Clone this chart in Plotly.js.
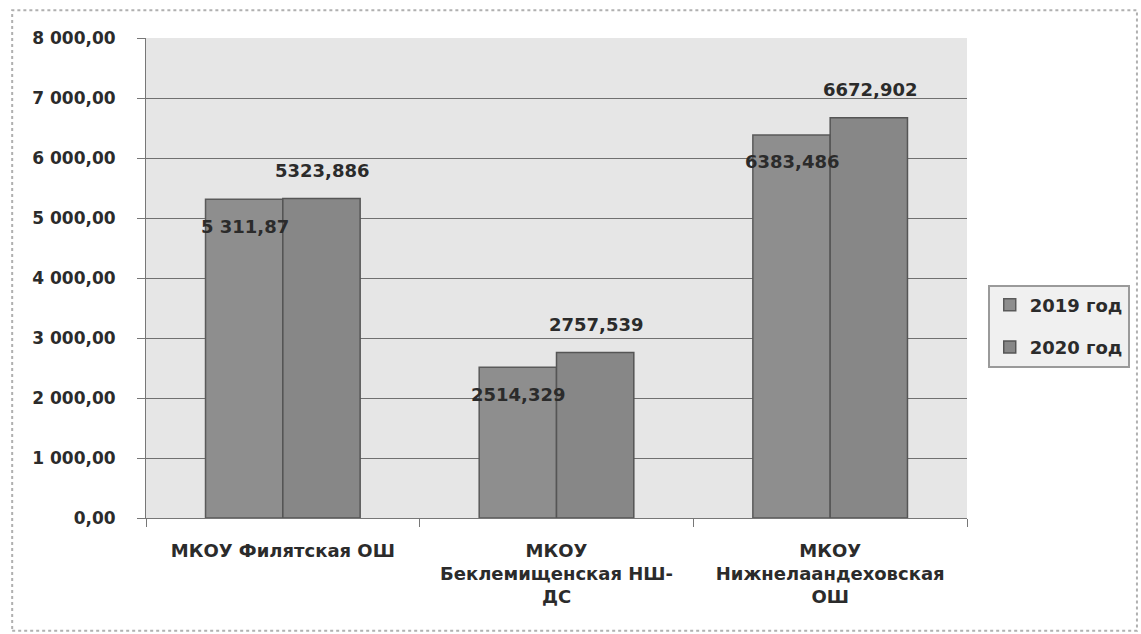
<!DOCTYPE html>
<html><head><meta charset="utf-8">
<script src="https://cdn.plot.ly/plotly-3.0.1.min.js"></script>
<style>html,body{margin:0;padding:0;background:#fff}#chart{width:1141px;height:634px}</style>
</head><body><div id="chart"></div>
<script>
const categories = ["МКОУ Филятская ОШ", "МКОУ<br>Беклемищенская НШ-<br>ДС", "МКОУ<br>Нижнелаандеховская<br>ОШ"];
const seriesNames = ["2019 год", "2020 год"];
const values2019 = [5311.87, 2514.329, 6383.486];
const values2020 = [5323.886, 2757.539, 6672.902];
const labels2019 = ["5 311,87", "2514,329", "6383,486"];
const labels2020 = ["5323,886", "2757,539", "6672,902"];
const yTickVals = [0, 1000, 2000, 3000, 4000, 5000, 6000, 7000, 8000];
const yTickText = ["0,00", "1 000,00", "2 000,00", "3 000,00", "4 000,00", "5 000,00", "6 000,00", "7 000,00", "8 000,00"];

const FONT = "DejaVu Sans, Verdana, sans-serif";
const textColor = "#2b2b2b";
const bold = s => "<b>" + s + "</b>";

const traces = [
  {type: "bar", name: bold(seriesNames[0]), x: categories.map(bold), y: values2019, legendgroup: "a",
   marker: {color: "#8e8e8e", line: {color: "#5a5a5a", width: 1.5}}},
  {type: "bar", name: bold(seriesNames[1]), x: categories.map(bold), y: values2020, legendgroup: "b",
   marker: {color: "#878787", line: {color: "#555555", width: 1.5}}}
];

const annotations = [];
categories.forEach((c, i) => {
  annotations.push({x: bold(c), y: values2019[i], text: bold(labels2019[i]), showarrow: false,
    xshift: -38, yshift: -27, font: {family: FONT, size: 18, color: textColor}});
  annotations.push({x: bold(c), y: values2020[i], text: bold(labels2020[i]), showarrow: false,
    xshift: 40, yshift: 28, font: {family: FONT, size: 18, color: textColor}});
});

const layout = {
  width: 1141, height: 634,
  margin: {l: 146, r: 173, t: 38, b: 116},
  paper_bgcolor: "#ffffff",
  plot_bgcolor: "#e6e6e6",
  barmode: "group",
  bargap: 0.435,
  bargroupgap: 0,
  showlegend: true,
  legend: {x: 1.024, y: 0.40, xanchor: "left", yanchor: "middle",
    traceorder: "grouped", tracegroupgap: 16, itemwidth: 30,
    bgcolor: "#f0f0f0", bordercolor: "#9a9a9a", borderwidth: 2,
    font: {family: FONT, size: 18, color: textColor}},
  font: {family: FONT, color: textColor},
  xaxis: {
    tickfont: {family: FONT, size: 18, color: textColor},
    ticks: "outside", tickson: "boundaries", ticklen: 8, tickcolor: "#777",
    ticklabelstandoff: 16,
    showline: true, linecolor: "#777", linewidth: 1, showgrid: false
  },
  yaxis: {
    range: [0, 8000], tickvals: yTickVals, ticktext: yTickText.map(bold),
    tickfont: {family: FONT, size: 17, color: textColor},
    ticks: "outside", ticklen: 8, tickcolor: "#777",
    ticklabelstandoff: 18,
    showline: true, linecolor: "#777", linewidth: 1,
    gridcolor: "#707070", gridwidth: 1, zeroline: false
  },
  annotations: annotations,
  shapes: [{type: "rect", xref: "paper", yref: "paper", x0: -0.163, x1: 1.207, y0: -0.235, y1: 1.058,
    line: {color: "#b0b0b0", width: 2, dash: "dot"}, layer: "below"}]
};
Plotly.newPlot("chart", traces, layout, {displayModeBar: false, staticPlot: true});
</script>
</body></html>
